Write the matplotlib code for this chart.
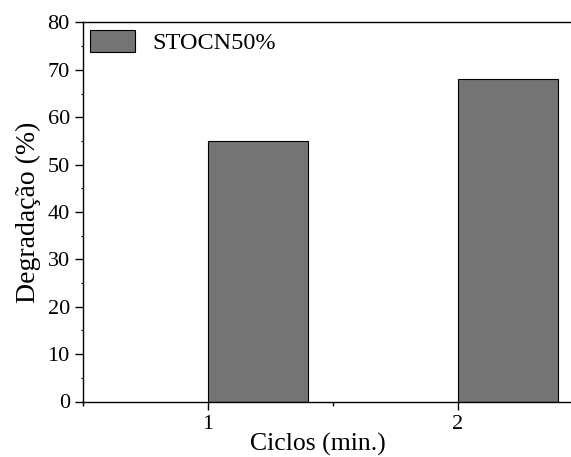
import numpy as np
import matplotlib.pyplot as plt
from matplotlib.ticker import MultipleLocator

ciclos = [1, 2]
degradacao = [55, 68]
serie = "STOCN50%"

plt.rcParams['font.family'] = ['Liberation Serif', 'DejaVu Serif']

fig = plt.figure(figsize=(5.71, 4.57), dpi=100)
# axes runs slightly past the right edge, like the cropped original
ax = fig.add_axes([83 / 571, 1 - 401.5 / 457, 500 / 571, 379 / 457])

ax.bar(ciclos, degradacao, width=0.4, align='edge', color='#747474',
       edgecolor='black', linewidth=0.8, label=serie)

ax.set_xlim(0.5, 2.5)
ax.set_ylim(0, 80)
ax.set_xticks(ciclos)
ax.xaxis.set_minor_locator(MultipleLocator(0.5))
ax.yaxis.set_major_locator(MultipleLocator(10))
ax.yaxis.set_minor_locator(MultipleLocator(5))
ax.tick_params(which='major', direction='out', length=6, width=1, labelsize=16)
ax.tick_params(axis='x', which='minor', direction='out', length=3, width=1)
ax.tick_params(axis='y', which='minor', direction='out', length=1.5, width=0.8)
for s in ax.spines.values():
    s.set_linewidth(1)

ax.set_xlabel("Ciclos (min.)", fontsize=18.5)
ax.xaxis.set_label_coords(0.47, -0.083)
ax.set_ylabel("Degradação (%)", fontsize=20, labelpad=5)

ax.legend(loc='upper left', frameon=False, fontsize=17.5, handlelength=1.85,
          handleheight=1.0, borderaxespad=0, borderpad=0.3, handletextpad=0.7)

fig.savefig("out.png", dpi=100)
